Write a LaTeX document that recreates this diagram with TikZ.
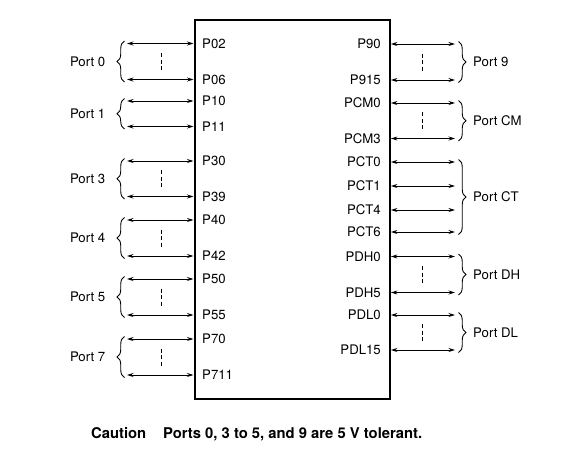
\documentclass[tikz,border=0pt]{standalone}
\usepackage{fontspec}
\setmainfont{TeX Gyre Heros}
\usetikzlibrary{arrows.meta,decorations.pathreplacing,calc}
\begin{document}
\begin{tikzpicture}[x=1pt,y=-1pt,
  pinlabel/.style={font=\fontsize{13.2}{15}\selectfont, inner sep=0pt},
  portlabel/.style={font=\fontsize{13.2}{15}\selectfont, inner sep=0pt},
  sig/.style={{Stealth[length=6.5pt,width=4pt]}-{Stealth[length=6.5pt,width=4pt]}, line width=0.9pt},
  grp/.style={decorate, decoration={brace, amplitude=7.5pt}, line width=0.9pt},
  gap/.style={dash pattern=on 4pt off 2.5pt, line width=0.9pt},
  note/.style={font=\bfseries\fontsize{14.8}{17}\selectfont, inner sep=0pt}]
\useasboundingbox (0,0) rectangle (566,461);
\node[draw, line width=2.4pt, minimum width=195pt, minimum height=379pt, anchor=north west, inner sep=0pt] (chip) at (193.5,19) {};
% left pins
\foreach \n/\y in {P02/43.5,P06/79.5,P10/101,P11/126.5,P30/161,P39/196.5,P40/220,P42/256,P50/279,P55/315,P70/339,P711/375}{
  \coordinate (a\n) at (127,\y);
  \draw[sig] (a\n) -- (chip.west |- a\n);
  \node[pinlabel, anchor=west] (\n) at (202,\y) {\n};
}
% right pins
\foreach \n/\y in {P90/44,P915/80,PCM0/103,PCM3/138.5,PCT0/162,PCT1/186,PCT4/210,PCT6/232,PDH0/256.5,PDH5/292.5,PDL0/315,PDL15/350}{
  \coordinate (a\n) at (455,\y);
  \draw[sig] (chip.east |- a\n) -- (a\n);
  \node[pinlabel, anchor=east] (\n) at (381,\y) {\n};
}
% left groups
\foreach \p/\t/\b/\d in {0/P02/P06/1,1/P10/P11/0,3/P30/P39/1,4/P40/P42/1,5/P50/P55/1,7/P70/P711/1}{
  \draw[grp] ([xshift=-2.5pt,yshift=-2.5pt]a\b) -- ([xshift=-2.5pt,yshift=2.5pt]a\t);
  \coordinate (m\p) at ($(a\t)!0.5!(a\b)$);
  \node[portlabel, anchor=east] (port\p) at ([xshift=-21.5pt]m\p) {Port \p};
  \ifnum\d=1
    \draw[gap] ([xshift=34pt,yshift=8.5pt]m\p) -- ([xshift=34pt,yshift=-8.5pt]m\p);
  \fi
}
% right groups
\foreach \p/\t/\b/\d in {9/P90/P915/1,CM/PCM0/PCM3/1,CT/PCT0/PCT6/0,DH/PDH0/PDH5/1,DL/PDL0/PDL15/1}{
  \draw[grp] ([xshift=3.5pt,yshift=2.5pt]a\t) -- ([xshift=3.5pt,yshift=-2.5pt]a\b);
  \coordinate (m\p) at ($(a\t)!0.5!(a\b)$);
  \node[portlabel, anchor=west] (port\p) at ([xshift=18pt]m\p) {Port \p};
  \ifnum\d=1
    \draw[gap] ([xshift=-33pt,yshift=8.5pt]m\p) -- ([xshift=-33pt,yshift=-8.5pt]m\p);
  \fi
}
\node[note, anchor=base west] (caution) at (91,438) {Caution};
\node[note, anchor=base west] (cautiontext) at (163,438) {Ports 0, 3 to 5, and 9 are 5 V tolerant.};
\end{tikzpicture}
\end{document}
